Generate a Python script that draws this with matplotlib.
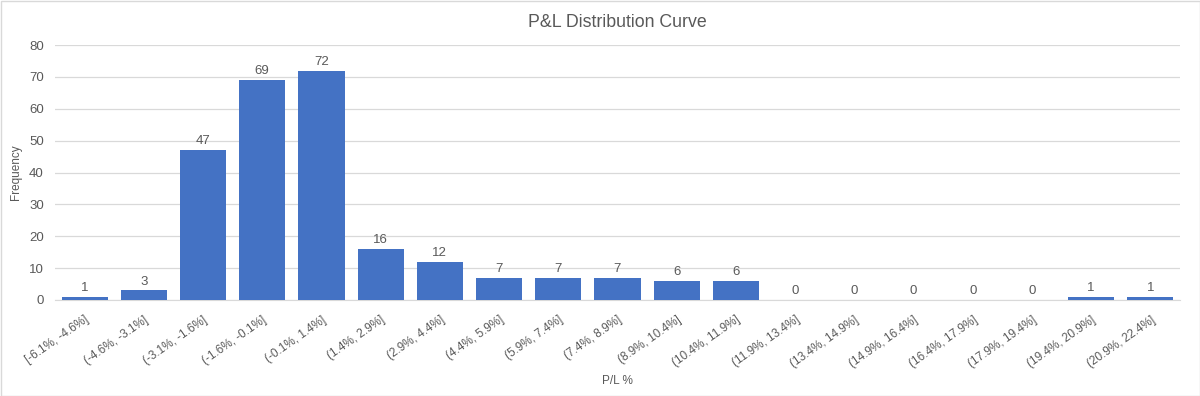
import matplotlib
matplotlib.use("Agg")
import matplotlib.pyplot as plt
from matplotlib.patches import Rectangle

categories = ["[-6.1%, -4.6%]", "(-4.6%, -3.1%]", "(-3.1%, -1.6%]", "(-1.6%, -0.1%]",
              "(-0.1%, 1.4%]", "(1.4%, 2.9%]", "(2.9%, 4.4%]", "(4.4%, 5.9%]",
              "(5.9%, 7.4%]", "(7.4%, 8.9%]", "(8.9%, 10.4%]", "(10.4%, 11.9%]",
              "(11.9%, 13.4%]", "(13.4%, 14.9%]", "(14.9%, 16.4%]", "(16.4%, 17.9%]",
              "(17.9%, 19.4%]", "(19.4%, 20.9%]", "(20.9%, 22.4%]"]
frequency = [1, 3, 47, 69, 72, 16, 12, 7, 7, 7, 6, 6, 0, 0, 0, 0, 0, 1, 1]
yticks = [0, 10, 20, 30, 40, 50, 60, 70, 80]

plt.rcParams['font.family'] = ['Liberation Sans', 'DejaVu Sans']
grey = '#595959'

fig = plt.figure(figsize=(12, 3.96), dpi=100)
ax = fig.add_axes([55/1200, (396-300)/396, 1125/1200, 255/396])

x = list(range(len(categories)))
bars = ax.bar(x, frequency, width=0.78, color='#4472C4', zorder=3)
for xi, v in zip(x, frequency):
    ax.text(xi, v + 0.9, str(v), ha='center', va='bottom', fontsize=9.5, color=grey)

ax.set_xlim(-0.5, len(categories) - 0.5)
ax.set_ylim(0, 80)
ax.set_yticks(yticks)
ax.set_yticklabels([str(t) for t in yticks], fontsize=9.5, color=grey)
ax.set_xticks(x)
ax.set_xticklabels(categories, rotation=35, ha='right', rotation_mode='anchor',
                   fontsize=8.5, color=grey)
ax.tick_params(axis='both', length=0)
ax.tick_params(axis='x', pad=10)
ax.tick_params(axis='y', pad=8)
ax.grid(axis='y', color='#d9d9d9', linewidth=0.9, zorder=0)
for s in ['top', 'right', 'left']:
    ax.spines[s].set_visible(False)
ax.spines['bottom'].set_color('#d9d9d9')

ax.set_title("P&L Distribution Curve", fontsize=12.8, color=grey, pad=13)
fig.text(617/1200, 1 - 381/396, "P/L %", ha='center', va='center', fontsize=8.5, color=grey)
fig.text(16/1200, 1 - 172/396, "Frequency", ha='center', va='center', rotation=90,
         fontsize=8.5, color=grey)

fig.patches.append(Rectangle((0.5/1200, 0.5/396), 1 - 1/1200, 1 - 1/396,
                             transform=fig.transFigure, fill=False,
                             edgecolor='#d9d9d9', linewidth=1))

fig.savefig("out.png", dpi=100)
